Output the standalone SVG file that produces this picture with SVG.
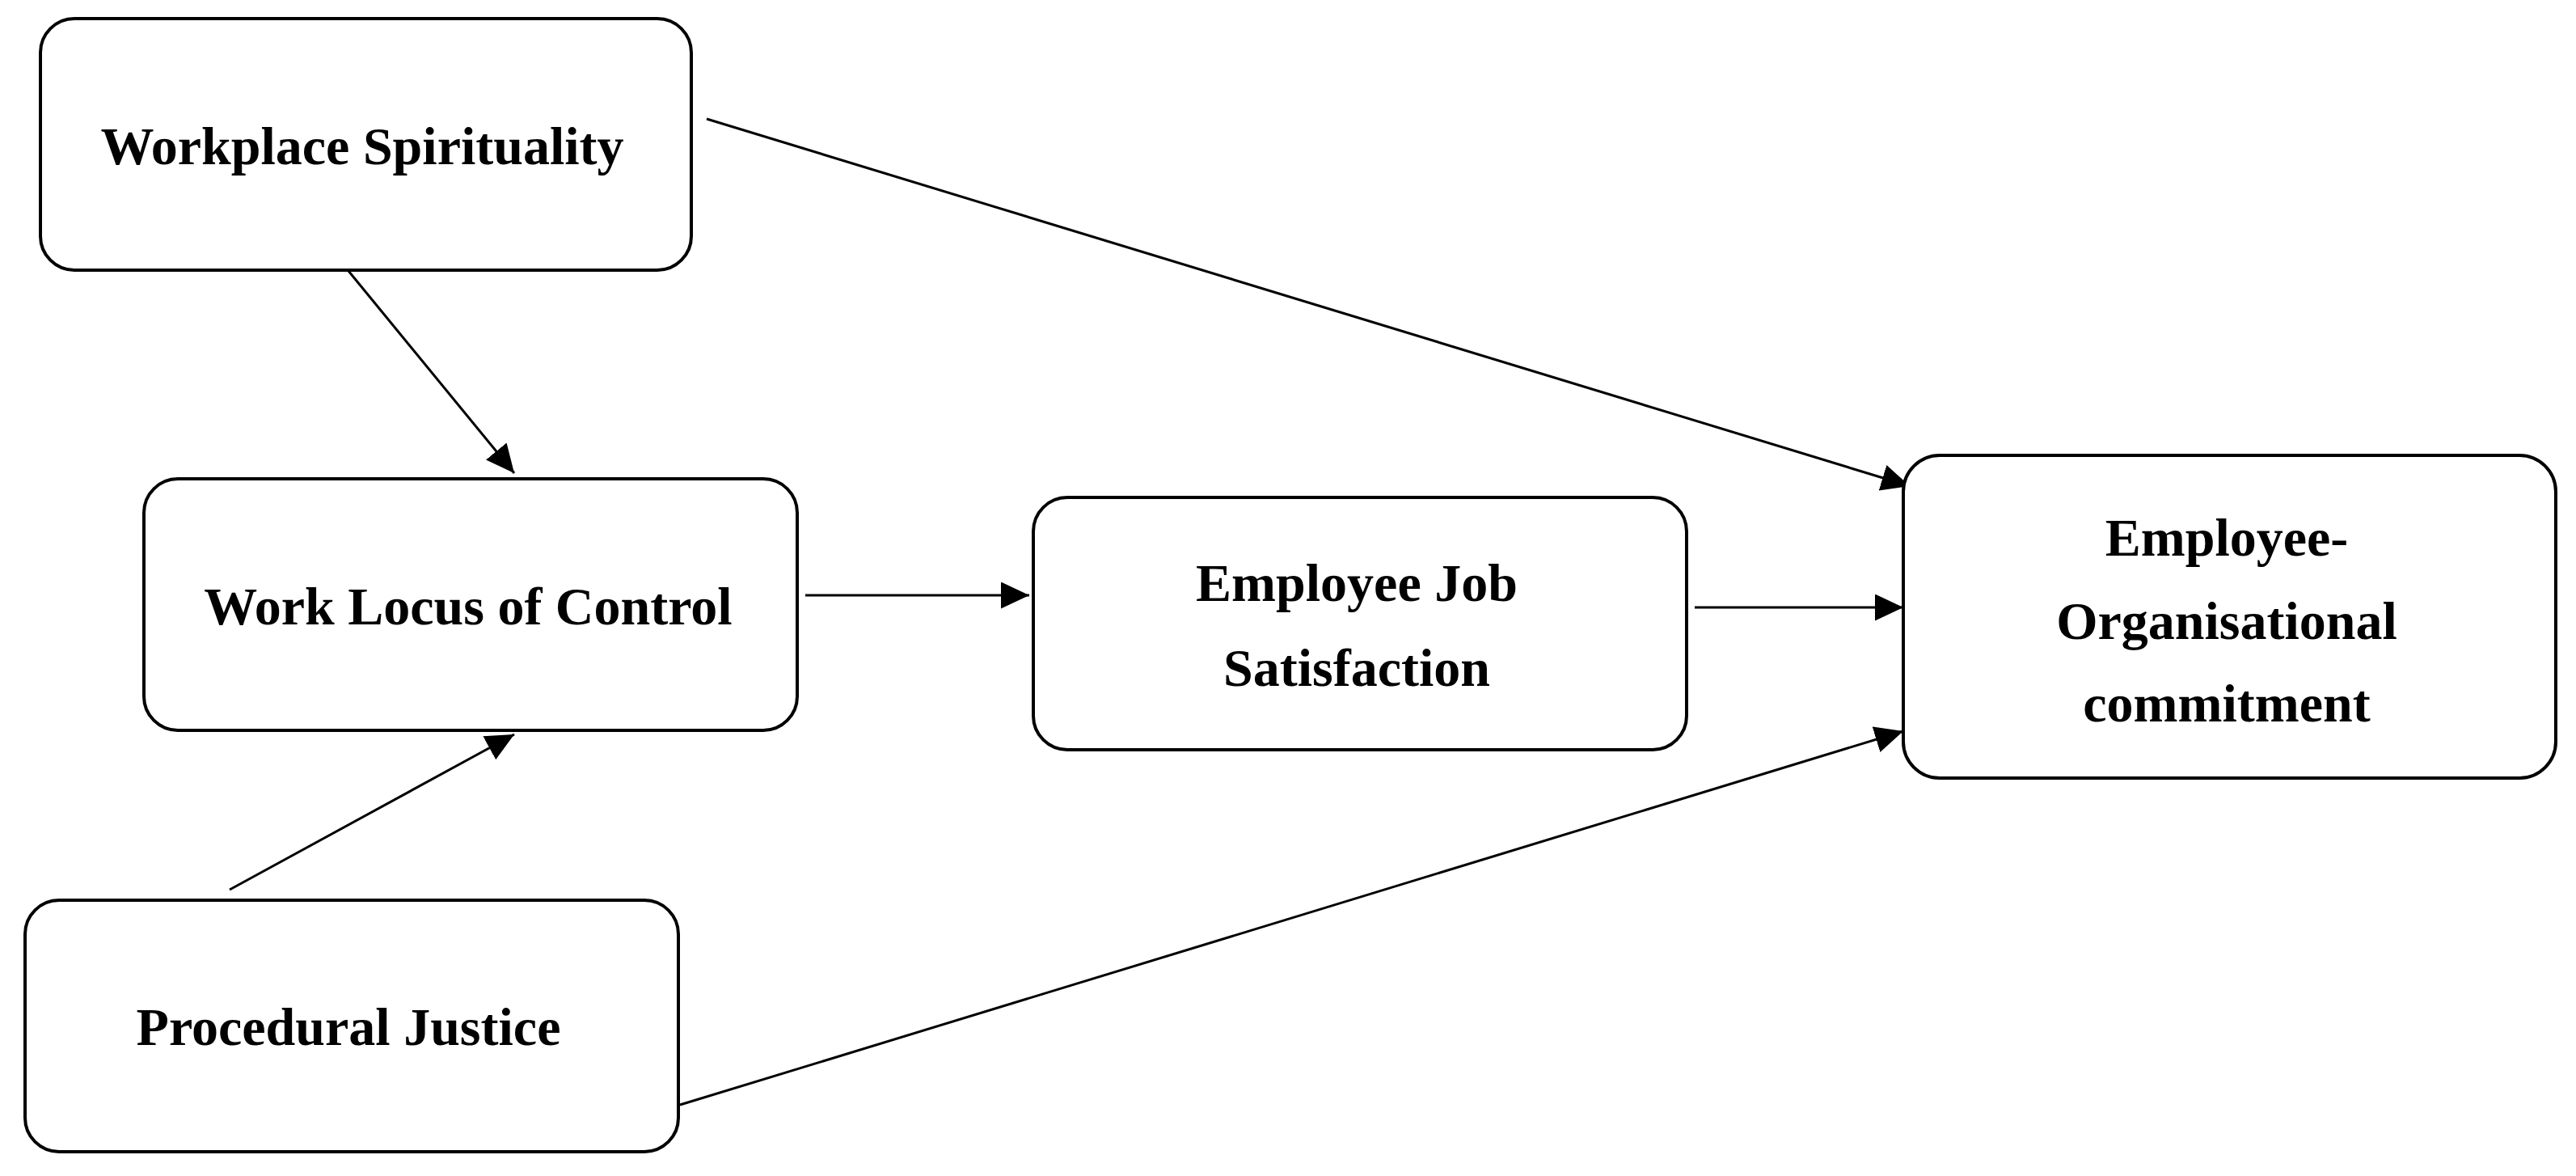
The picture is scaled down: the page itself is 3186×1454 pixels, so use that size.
<svg xmlns="http://www.w3.org/2000/svg" width="3186" height="1454" viewBox="0 0 3186 1454">
<style>
.box{fill:#fff;stroke:#000;stroke-width:4}
.lbl{font-family:"Liberation Serif","Times New Roman",serif;font-weight:bold;font-size:66px;fill:#000;text-anchor:middle}
.conn{stroke:#000;stroke-width:3;fill:none;marker-end:url(#ah)}
</style>
<defs>
<marker id="ah" markerUnits="userSpaceOnUse" markerWidth="36" markerHeight="34" refX="35" refY="16.5" orient="auto">
<path d="M0,0 L35,16.5 L0,33 Z" fill="#000"/>
</marker>
</defs>
<rect width="3186" height="1454" fill="#fff"/>
<g id="connectors">
<line class="conn" x1="431" y1="335" x2="636" y2="585"/>
<line class="conn" x1="874" y1="147" x2="2362" y2="601"/>
<line class="conn" x1="996" y1="736" x2="1273" y2="736"/>
<line class="conn" x1="2096" y1="751" x2="2354" y2="751"/>
<line class="conn" x1="284" y1="1100" x2="636" y2="908"/>
<line class="conn" x1="841" y1="1366" x2="2354" y2="904"/>
</g>
<g id="node-ws">
<rect class="box" x="50" y="23" width="805" height="311" rx="42" ry="42"/>
<text class="lbl" x="448" y="203">Workplace Spirituality</text>
</g>
<g id="node-wlc">
<rect class="box" x="178" y="592" width="808" height="311" rx="42" ry="42"/>
<text class="lbl" x="579" y="772">Work Locus of Control</text>
</g>
<g id="node-pj">
<rect class="box" x="31" y="1113" width="808" height="311" rx="42" ry="42"/>
<text class="lbl" x="431" y="1292">Procedural Justice</text>
</g>
<g id="node-ejs">
<rect class="box" x="1278" y="615" width="808" height="312" rx="42" ry="42"/>
<text class="lbl" x="1678" y="743">Employee Job</text>
<text class="lbl" x="1678" y="848">Satisfaction</text>
</g>
<g id="node-eoc">
<rect class="box" x="2354" y="563" width="807" height="399" rx="45" ry="45"/>
<text class="lbl" x="2754" y="687">Employee-</text>
<text class="lbl" x="2754" y="790">Organisational</text>
<text class="lbl" x="2754" y="892">commitment</text>
</g>
</svg>
